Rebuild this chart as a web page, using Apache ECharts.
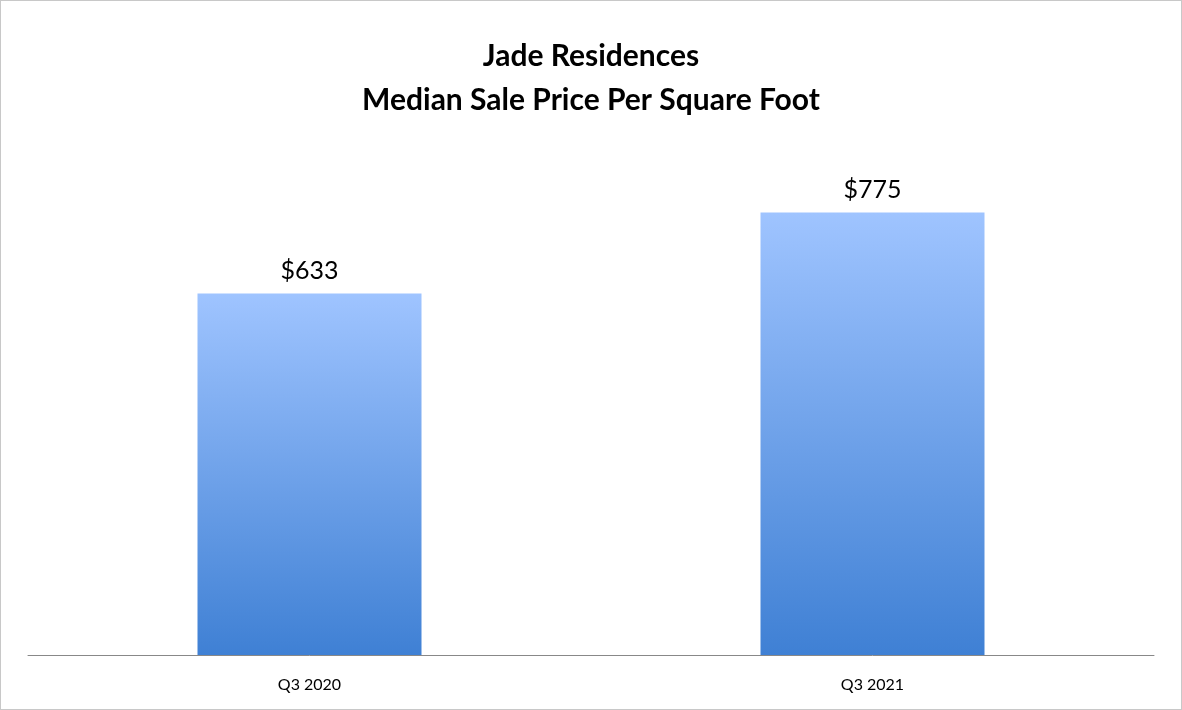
<!DOCTYPE html>
<html><head><meta charset="utf-8">
<script src="https://cdn.jsdelivr.net/npm/echarts@6/dist/echarts.min.js"></script>
<style>html,body{margin:0;padding:0;background:#fff}#c{width:1182px;height:710px;box-sizing:border-box;border:1px solid #c8c8c8}</style>
</head><body><div id="c"></div>
<script>
const categories = ["Q3 2020", "Q3 2021"];
const values = [633, 775];
const chart = echarts.init(document.getElementById('c'));
chart.setOption({
  animation: false,
  title: {
    text: "Jade Residences\nMedian Sale Price Per Square Foot",
    left: 'center', top: 28,
    textStyle: {fontFamily: 'Lato', fontWeight: 'bold', fontSize: 30, lineHeight: 44, color: '#000'}
  },
  grid: {left: 27, right: 27, top: 83, bottom: 54},
  xAxis: {
    type: 'category', data: categories,
    axisLine: {lineStyle: {color: '#888'}},
    axisTick: {show: false},
    axisLabel: {fontFamily: 'Lato', fontSize: 16, color: '#000', margin: 22}
  },
  yAxis: {type: 'value', min: 0, max: 1000, show: false, splitLine: {show: false}},
  series: [{
    type: 'bar', data: values, barWidth: 224,
    itemStyle: {color: new echarts.graphic.LinearGradient(0, 0, 0, 1, [
      {offset: 0, color: '#9fc4ff'}, {offset: 1, color: '#3f80d4'}])},
    label: {show: true, position: 'top', distance: 10, formatter: p => '$' + p.value,
      fontFamily: 'Lato', fontSize: 25, color: '#000'}
  }]
});
</script></body></html>
